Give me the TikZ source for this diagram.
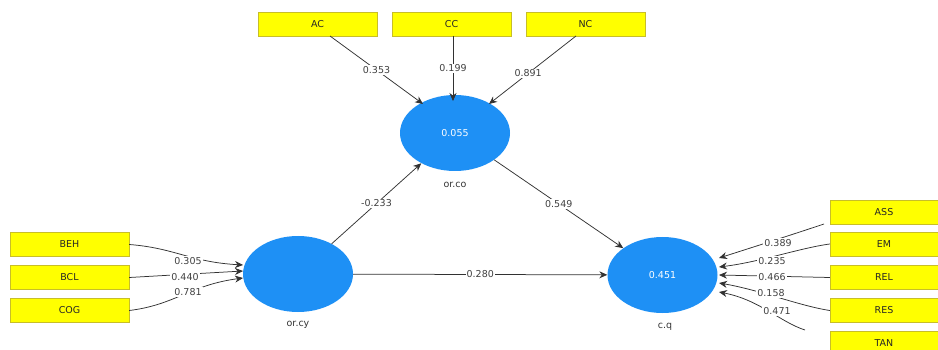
\documentclass[tikz,border=0pt]{standalone}
\usepackage{fontspec}
\setmainfont{DejaVu Sans}
\usetikzlibrary{arrows.meta,shapes.geometric}
\definecolor{ybox}{RGB}{255,255,0}
\definecolor{yedge}{RGB}{200,190,40}
\definecolor{lvblue}{RGB}{30,144,245}
\definecolor{lnk}{RGB}{50,50,50}
\tikzset{
  ind/.style={draw=yedge,fill=ybox,minimum width=119pt,minimum height=24pt,inner sep=0pt,font=\fontsize{9.5}{10}\selectfont,text=black!85},
  lv/.style={ellipse,fill=lvblue,minimum width=110pt,minimum height=76pt,inner sep=0pt,text=white,font=\fontsize{9.5}{10}\selectfont},
  lvname/.style={font=\fontsize{9.5}{10}\selectfont,text=black!80},
  pth/.style={draw=lnk,line width=0.75pt,-{Stealth[length=8pt,width=7pt]}},
  coef/.style={fill=white,inner sep=1pt,font=\fontsize{9.5}{10}\selectfont,text=black!75},
}
\begin{document}
\begin{tikzpicture}[x=1pt,y=-1pt]
\useasboundingbox (0,0) rectangle (938,350);
% indicator boxes
\node[ind] (AC) at (317.5,24) {AC};
\node[ind] (CC) at (451.5,24) {CC};
\node[ind] (NC) at (585.5,24) {NC};
\node[ind] (BEH) at (69.5,244.5) {BEH};
\node[ind] (BCL) at (69.5,277.5) {BCL};
\node[ind] (COG) at (69.5,310.5) {COG};
\node[ind,minimum width=108pt] (ASS) at (884,212) {ASS};
\node[ind,minimum width=108pt] (EM) at (884,244) {EM};
\node[ind,minimum width=108pt] (REL) at (884,277.5) {REL};
\node[ind,minimum width=108pt] (RES) at (884,310.5) {RES};
\node[ind,minimum width=108pt] (TAN) at (884,343) {TAN};
% latent variables
\node[lv] (orco) at (455,133) {0.055};
\node[lv] (orcy) at (298,274) {};
\node[lv] (cq) at (662.5,275) {0.451};
\node[lvname] (orcoN) at (455,185) {or.co};
\node[lvname] (orcyN) at (298,325) {or.cy};
\node[lvname] (cqN) at (665,327) {c.q};
% outer model: or.co
\coordinate (acE) at (423,104);
\coordinate (ccE) at (453,101);
\coordinate (ncE) at (489,104);
\coordinate (acS) at (330,36);
\coordinate (ccS) at (453,36);
\coordinate (ncS) at (576,36);
\draw[pth] (acS) -- (acE) node[coef,pos=0.5] (lAC) {0.353};
\draw[pth] (ccS) -- (ccE) node[coef,pos=0.5] (lCC) {0.199};
\draw[pth] (ncS) -- (ncE) node[coef,pos=0.55] (lNC) {0.891};
% outer model: or.cy
\coordinate (cyA) at (243,265);
\coordinate (cyB) at (243,271);
\coordinate (cyC) at (243,278);
\draw[pth] (BEH.east) .. controls (175,248) and (190,262) .. (cyA);
\draw[pth] (BCL.east) -- (cyB);
\draw[pth] (COG.east) .. controls (175,305) and (190,285) .. (cyC);
\node[coef] (l305) at (188,261) {0.305};
\node[coef] (l440) at (185,277) {0.440};
\node[coef] (l781) at (188,292) {0.781};
% outer model: c.q
\coordinate (cqA) at (719,258);
\coordinate (cqB) at (719,267);
\coordinate (cqC) at (719,275);
\coordinate (cqD) at (719,283);
\coordinate (cqE) at (719,292);
\coordinate (assS) at (824,224);
\coordinate (tanS) at (805,330);
\draw[pth] (assS) .. controls (800,232) and (760,245) .. (cqA);
\draw[pth] (EM.west) .. controls (800,248) and (760,262) .. (cqB);
\draw[pth] (REL.west) -- (cqC);
\draw[pth] (RES.west) .. controls (800,306) and (760,290) .. (cqD);
\draw[pth] (tanS) .. controls (780,322) and (760,300) .. (cqE);
\node[coef] (l389) at (778,243) {0.389};
\node[coef] (l235) at (772,261) {0.235};
\node[coef] (l466) at (772,277) {0.466};
\node[coef] (l158) at (771,293) {0.158};
\node[coef] (l471) at (777,311) {0.471};
% inner model
\draw[pth] (orcy) -- (orco) node[coef,pos=0.5] (l233) {-0.233};
\draw[pth] (orco) -- (cq) node[coef,pos=0.5] (l549) {0.549};
\draw[pth] (orcy) -- (cq) node[coef,pos=0.5] (l280) {0.280};
\end{tikzpicture}
\end{document}
